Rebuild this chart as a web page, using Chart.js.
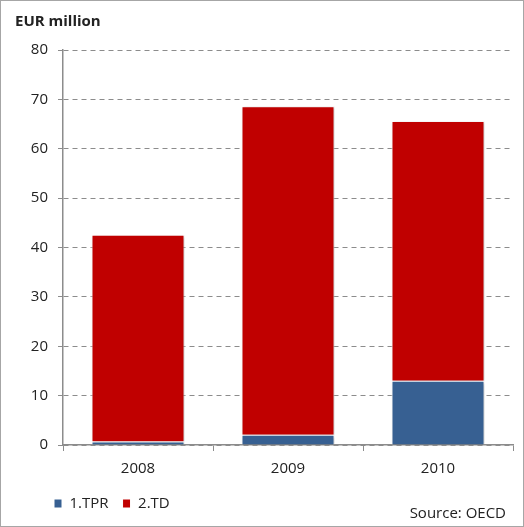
<!DOCTYPE html>
<html>
<head>
<meta charset="utf-8">
<script src="https://cdn.jsdelivr.net/npm/chart.js@4"></script>
<style>
    html, body { margin: 0; padding: 0; background: #fff; }
    #wrap {
        position: relative;
        width: 524px;
        height: 527px;
        box-sizing: border-box;
        border: 1px solid #a6a6a6;
    }
    #source {
        position: absolute;
        right: 17px;
        bottom: 4px;
        font: 15px "Open Sans", sans-serif;
        color: #222;
    }
</style>
</head>
<body>
<div id="wrap">
    <canvas id="fundChart"></canvas>
    <div id="source">Source: OECD</div>
</div>
<script>
// Data (EUR million)
const years = ['2008', '2009', '2010'];
const tprValues = [0.7, 2.1, 13.0];
const tdValues = [41.9, 66.5, 52.6];
const yTicks = [0, 10, 20, 30, 40, 50, 60, 70, 80];

const textColor = '#222';
const fontFamily = '"Open Sans", sans-serif';

// Soft drop shadow under the bars
const barShadow = {
    id: 'barShadow',
    beforeDatasetsDraw(chart) {
        const ctx = chart.ctx;
        ctx.save();
        ctx.shadowColor = 'rgba(0, 0, 0, 0.22)';
        ctx.shadowBlur = 3;
        ctx.shadowOffsetX = 1.5;
        ctx.shadowOffsetY = 1;
    },
    afterDatasetsDraw(chart) {
        chart.ctx.restore();
    }
};

// Legend sits indented under the plot, a little closer to the axis labels
const legendShift = {
    id: 'legendShift',
    afterLayout(chart) {
        const lg = chart.legend;
        lg.left += 25;
        lg.right += 25;
        lg.top -= 5;
        lg.bottom -= 5;
    }
};

const ctx = document.getElementById('fundChart').getContext('2d');

new Chart(ctx, {
    type: 'bar',
    data: {
        labels: years,
        datasets: [
            {
                label: '1.TPR',
                data: tprValues,
                backgroundColor: '#376092',
                borderColor: '#ffffff',
                borderWidth: 1,
                barPercentage: 0.62,
                categoryPercentage: 1
            },
            {
                label: '2.TD',
                data: tdValues,
                backgroundColor: '#c00000',
                borderColor: '#ffffff',
                borderWidth: 1,
                barPercentage: 0.62,
                categoryPercentage: 1
            }
        ]
    },
    options: {
        responsive: true,
        maintainAspectRatio: false,
        animation: false,
        layout: {
            padding: { left: 14, right: 10, top: 0, bottom: 0 }
        },
        plugins: {
            title: {
                display: true,
                text: 'EUR million',
                align: 'start',
                color: textColor,
                font: { family: fontFamily, size: 15, weight: 'bold' },
                padding: { top: 12, bottom: 19 }
            },
            legend: {
                position: 'bottom',
                align: 'start',
                labels: {
                    color: textColor,
                    font: { family: fontFamily, size: 15 },
                    boxWidth: 8,
                    boxHeight: 9,
                    padding: 14
                }
            },
            tooltip: { enabled: false }
        },
        scales: {
            x: {
                stacked: true,
                offset: true,
                grid: {
                    offset: true,
                    drawOnChartArea: false,
                    drawTicks: true,
                    tickLength: 6,
                    tickColor: '#8c8c8c'
                },
                border: { display: true, color: '#8c8c8c', width: 1.5 },
                ticks: {
                    color: textColor,
                    font: { family: fontFamily, size: 15 },
                    padding: 9
                }
            },
            y: {
                stacked: true,
                min: 0,
                max: 80,
                afterFit(scale) {
                    scale.width = 48;
                },
                afterBuildTicks(scale) {
                    scale.ticks = yTicks.map(v => ({ value: v }));
                },
                grid: {
                    color: '#8c8c8c',
                    lineWidth: 1,
                    tickLength: 5,
                    tickColor: '#8c8c8c'
                },
                border: { display: true, color: '#8c8c8c', width: 1.5, dash: [5, 4] },
                ticks: {
                    color: textColor,
                    font: { family: fontFamily, size: 15 },
                    padding: 10
                }
            }
        }
    },
    plugins: [barShadow, legendShift]
});
</script>
</body>
</html>
